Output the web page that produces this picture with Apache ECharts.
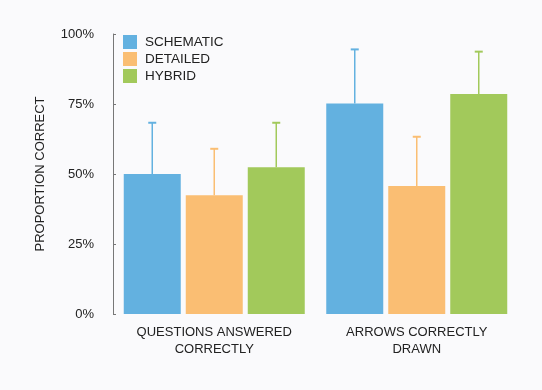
<!DOCTYPE html>
<html>
<head>
<meta charset="utf-8">
<script src="https://cdn.jsdelivr.net/npm/echarts@6/dist/echarts.min.js"></script>
<style>
html,body{margin:0;padding:0;background:#fafafc;}
#chart{width:542px;height:390px;}
</style>
</head>
<body>
<div id="chart"></div>
<script>
const categories = ['QUESTIONS ANSWERED\nCORRECTLY', 'ARROWS CORRECTLY\nDRAWN'];
const seriesNames = ['SCHEMATIC', 'DETAILED', 'HYBRID'];
const schematic = [50, 75.2];
const detailed = [42.4, 45.7];
const hybrid = [52.4, 78.6];
const schematicUpper = [68.3, 94.5];
const detailedUpper = [59.0, 63.3];
const hybridUpper = [68.3, 93.7];
const yTicks = [0, 25, 50, 75, 100];

const colors = ['#63b1e0', '#fabe73', '#a2c95b'];
const values = [schematic, detailed, hybrid];
const uppers = [schematicUpper, detailedUpper, hybridUpper];
const barW = 57, gap = 5;

const chart = echarts.init(document.getElementById('chart'));
const font = "'Liberation Sans', Arial, sans-serif";

const barSeries = seriesNames.map((n, k) => ({
  name: n, type: 'bar', data: values[k], barWidth: barW, barGap: (gap / barW * 100) + '%',
  itemStyle: { color: colors[k] }, z: 2
}));
const errSeries = seriesNames.map((n, k) => ({
  type: 'custom', z: 3, silent: true,
  data: categories.map((c, i) => [i, values[k][i], uppers[k][i]]),
  encode: { x: 0, y: 2 },
  renderItem: (params, api) => {
    const off = (k - 1) * (barW + gap);
    const x = api.coord([api.value(0), 0])[0] + off;
    const yTop = api.coord([api.value(0), api.value(2)])[1];
    const yBase = api.coord([api.value(0), api.value(1)])[1];
    return { type: 'group', children: [
      { type: 'line', shape: { x1: x, y1: yBase, x2: x, y2: yTop }, style: { stroke: colors[k], lineWidth: 1.5 } },
      { type: 'line', shape: { x1: x - 4, y1: yTop, x2: x + 4, y2: yTop }, style: { stroke: colors[k], lineWidth: 2 } }
    ]};
  }
}));

chart.setOption({
  backgroundColor: '#fafafc',
  animation: false,
  textStyle: { fontFamily: font },
  legend: {
    data: seriesNames, orient: 'vertical', left: 118, top: 30,
    icon: 'rect', itemWidth: 14, itemHeight: 14, itemGap: 3,
    textStyle: { fontSize: 13.5, color: '#222', fontFamily: font, padding: [0, 0, 0, 3] }
  },
  grid: { left: 113, right: 24, top: 34, bottom: 76, containLabel: false },
  xAxis: {
    type: 'category', data: categories,
    axisLine: { show: false }, axisTick: { show: false },
    axisLabel: { fontSize: 13, color: '#222', lineHeight: 17, margin: 10, fontFamily: font }
  },
  yAxis: {
    type: 'value', min: yTicks[0], max: yTicks[yTicks.length - 1], interval: 25,
    name: 'PROPORTION CORRECT', nameLocation: 'middle', nameGap: 66, nameRotate: 90,
    nameTextStyle: { fontSize: 13, color: '#222', fontFamily: font },
    axisLine: { show: true, lineStyle: { color: '#777', width: 1 } },
    axisTick: { show: true, inside: true, length: 3, lineStyle: { color: '#777' } },
    splitLine: { show: false },
    axisLabel: { formatter: '{value}%', fontSize: 13, color: '#222', margin: 19, fontFamily: font }
  },
  series: [...barSeries, ...errSeries]
});
</script>
</body>
</html>
